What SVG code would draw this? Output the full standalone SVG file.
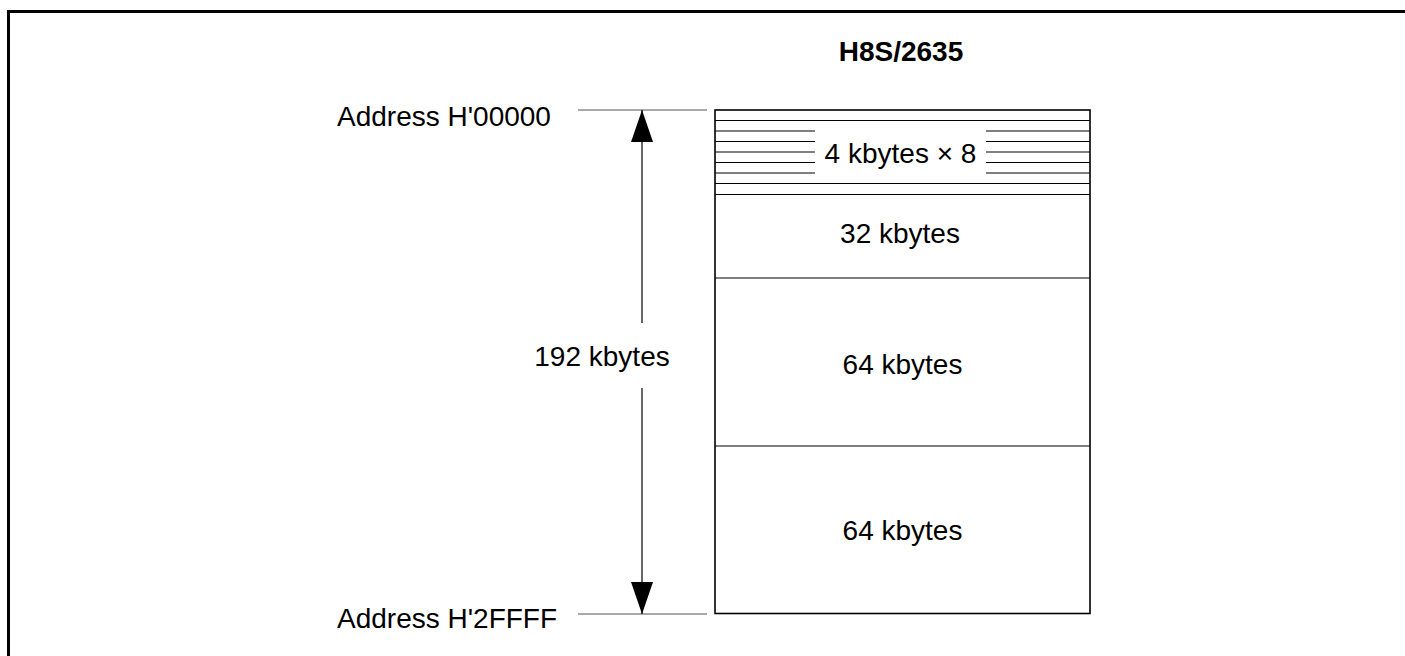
<svg xmlns="http://www.w3.org/2000/svg" width="1405" height="656" viewBox="0 0 1405 656">
<style>
text{font-family:"Liberation Sans",Arial,sans-serif;font-size:28px;fill:#000}
.t{font-weight:bold}
.thin{stroke:#000;stroke-width:1.2;fill:none}
.box{stroke:#000;stroke-width:1.6;fill:#fff}
</style>
<defs>
<marker id="ah" viewBox="0 0 32 22" refX="32" refY="11" markerWidth="32" markerHeight="22" markerUnits="userSpaceOnUse" orient="auto-start-reverse">
<path d="M0,0 L32,11 L0,22 Z" fill="#000"/>
</marker>
</defs>
<rect width="1405" height="656" fill="#fff"/>
<path d="M8.5,656 V11.5 H1405" fill="none" stroke="#000" stroke-width="3"/>
<text class="t" x="901" y="61" text-anchor="middle">H8S/2635</text>
<g id="address-top">
<text x="337" y="126">Address H'00000</text>
</g>
<g id="address-bottom">
<text x="337" y="628">Address H'2FFFF</text>
</g>
<g id="memory">
<rect class="box" x="715" y="110" width="375" height="503.5"/>
<g id="blocks-4k">
<line class="thin" x1="715" y1="120.5" x2="1090" y2="120.5"/>
<line class="thin" x1="715" y1="183.5" x2="1090" y2="183.5"/>
<path class="thin" d="M715,131 H815 M986,131 H1090 M715,141.5 H815 M986,141.5 H1090 M715,152 H815 M986,152 H1090 M715,162.5 H815 M986,162.5 H1090 M715,173 H815 M986,173 H1090"/>
<text x="900.5" y="163" text-anchor="middle">4 kbytes × 8</text>
</g>
<line class="thin" x1="715" y1="194.5" x2="1090" y2="194.5"/>
<g id="block-32k">
<text x="900" y="243" text-anchor="middle">32 kbytes</text>
</g>
<line class="thin" x1="715" y1="278" x2="1090" y2="278"/>
<g id="block-64k-1">
<text x="902.5" y="374" text-anchor="middle">64 kbytes</text>
</g>
<line class="thin" x1="715" y1="446" x2="1090" y2="446"/>
<g id="block-64k-2">
<text x="902.5" y="540" text-anchor="middle">64 kbytes</text>
</g>
</g>
<g id="connectors">
<line x1="578" y1="110" x2="707" y2="110" stroke="#555" stroke-width="1.2"/>
<line x1="578" y1="614" x2="707" y2="614" stroke="#555" stroke-width="1.2"/>
<line x1="642" y1="110" x2="642" y2="323" stroke="#000" stroke-width="1.2" marker-start="url(#ah)"/>
<line x1="642" y1="388" x2="642" y2="614" stroke="#000" stroke-width="1.2" marker-end="url(#ah)"/>
</g>
<g id="size-label">
<text x="602" y="366" text-anchor="middle">192 kbytes</text>
</g>
</svg>
